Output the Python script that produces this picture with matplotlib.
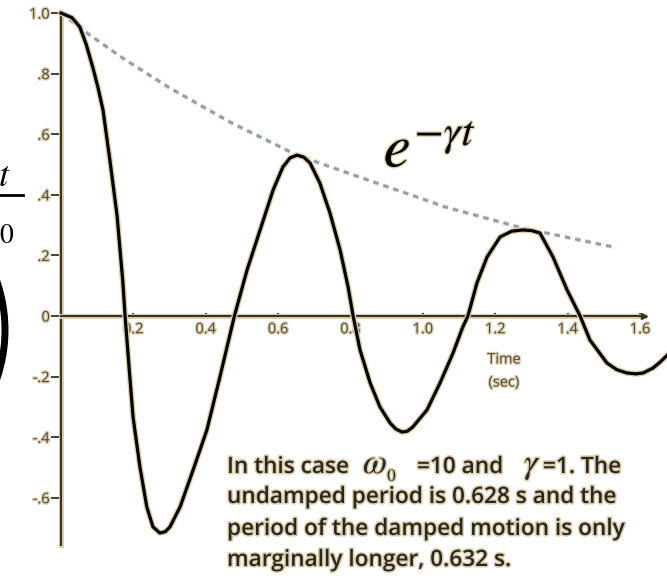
import matplotlib
matplotlib.use("Agg")
import matplotlib.pyplot as plt
import matplotlib.patheffects as pe
from matplotlib.patches import Arc

# damped oscillation x/x0 (time in seconds)
t_sec = [0.0, 0.03, 0.052, 0.07, 0.088, 0.102, 0.116, 0.135, 0.155, 0.171, 0.177,
         0.188, 0.199, 0.218, 0.237, 0.254, 0.273, 0.288, 0.301, 0.329, 0.365,
         0.403, 0.439, 0.479, 0.514, 0.55, 0.586, 0.613, 0.633, 0.652, 0.671,
         0.688, 0.715, 0.743, 0.771, 0.793, 0.807, 0.826, 0.854, 0.881, 0.909,
         0.925, 0.942, 0.957, 0.972, 1.011, 1.047, 1.083, 1.11, 1.124, 1.149,
         1.177, 1.213, 1.245, 1.276, 1.30, 1.323, 1.359, 1.398, 1.434, 1.461,
         1.508, 1.535, 1.563, 1.588, 1.608, 1.635, 1.655, 1.674]
x_ratio = [1.0, 0.985, 0.954, 0.895, 0.82, 0.755, 0.68, 0.515, 0.33, 0.11, 0.0,
           -0.168, -0.333, -0.498, -0.63, -0.696, -0.716, -0.712, -0.696, -0.63, -0.508,
           -0.376, -0.201, 0.0, 0.152, 0.284, 0.416, 0.492, 0.522, 0.531, 0.524,
           0.505, 0.439, 0.34, 0.218, 0.096, 0.0, -0.112, -0.221, -0.30, -0.353,
           -0.373, -0.383, -0.38, -0.366, -0.31, -0.221, -0.122, -0.036, 0.0, 0.109,
           0.195, 0.261, 0.28, 0.284, 0.282, 0.274, 0.195, 0.086, 0.0, -0.079,
           -0.155, -0.177, -0.188, -0.191, -0.188, -0.172, -0.152, -0.13]

# e^(-gamma t) envelope
env_t = [0.0, 0.08, 0.171, 0.301, 0.467, 0.652, 0.84, 1.019, 1.055, 1.276, 1.525]
env_x = [1.0, 0.927, 0.851, 0.752, 0.64, 0.531, 0.452, 0.378, 0.362, 0.29, 0.228]

x_ticks = [0.2, 0.4, 0.6, 0.8, 1.0, 1.2, 1.4, 1.6]
x_tick_labels = ["0.2", "0.4", "0.6", "0.8", "1.0", "1.2", "1.4", "1.6"]
y_ticks = [1.0, 0.8, 0.6, 0.4, 0.2, 0.0, -0.2, -0.4, -0.6]
y_tick_labels = ["1.0", ".8", ".6", ".4", ".2", "0", "-.2", "-.4", "-.6"]

note_lines = ["undamped period is 0.628 s and the",
              "period of the damped motion is only",
              "marginally longer, 0.632 s."]

plt.rcParams["font.family"] = ["Open Sans", "DejaVu Sans"]
plt.rcParams["mathtext.fontset"] = "stix"

BEIGE = "#dccfae"
AXIS = "#3a3226"
LABEL = "#4e463a"
halo = lambda w: [pe.withStroke(linewidth=w, foreground=BEIGE)]

fig = plt.figure(figsize=(6.67, 5.79), dpi=100)
ax = fig.add_axes([0, 0, 1, 1])
ax.set_xlim(-0.1685, 1.674)
ax.set_ylim(-0.868, 1.043)

ax.plot(env_t, env_x, color="#86a0bb", lw=1.8, dashes=(2.2, 2.0),
        path_effects=halo(3.0), zorder=3)
ax.plot(t_sec, x_ratio, color="black", lw=2.3, solid_joinstyle="round",
        path_effects=halo(4.2), zorder=4)

# axes through the origin
for side in ["top", "right"]:
    ax.spines[side].set_visible(False)
ax.spines["left"].set_position(("data", 0))
ax.spines["bottom"].set_position(("data", 0))
ax.spines["left"].set_bounds(-0.755, 1.0)
ax.spines["bottom"].set_bounds(0, 1.61)
for side in ["left", "bottom"]:
    ax.spines[side].set_color(AXIS)
    ax.spines[side].set_linewidth(1.5)
    ax.spines[side].set_path_effects(halo(3.6))
ax.plot([1.61], [0], marker=">", ms=5, color=AXIS, clip_on=False, zorder=3)

ax.set_xticks(x_ticks, x_tick_labels)
ax.set_yticks(y_ticks, y_tick_labels)
ax.tick_params(axis="x", direction="inout", length=5, width=1.4, color=AXIS,
               pad=2, labelsize=10.5, labelcolor=LABEL)
ax.tick_params(axis="y", direction="out", length=7, width=1.3, color=AXIS,
               pad=1, labelsize=10.5, labelcolor=LABEL)
for lab in ax.get_xticklabels() + ax.get_yticklabels():
    lab.set_path_effects(halo(2.0))

ax.text(504 / 667, 1 - 360 / 579, "Time", transform=ax.transAxes, ha="center",
        va="center", fontsize=10.5, color=LABEL, path_effects=halo(1.8))
ax.text(504 / 667, 1 - 383 / 579, "(sec)", transform=ax.transAxes, ha="center",
        va="center", fontsize=10.5, color=LABEL, path_effects=halo(1.8))

ax.text(0.575, 0.712, r"$e^{-\gamma t}$", transform=ax.transAxes, fontsize=44,
        va="baseline", ha="left", path_effects=halo(2.0))

# explanatory note; first line mixes text and symbols
note_kw = dict(transform=ax.transAxes, va="baseline", ha="left", fontsize=16.3,
               fontweight="semibold", color="#2a2620", path_effects=halo(2.2))
sym_kw = {**note_kw, "fontsize": 25, "fontweight": "normal"}
y0 = 1 - 473 / 579
ax.text(227 / 667, y0, "In this case", **note_kw)
ax.text(363 / 667, y0, r"$\omega_{_0}$", **sym_kw)
ax.text(417 / 667, y0, "=10 and", **note_kw)
ax.text(524 / 667, y0, r"$\gamma$", **sym_kw)
ax.text(543 / 667, y0, "=1. The", **note_kw)
for line, ypix in zip(note_lines, [503, 535, 566]):
    ax.text(227 / 667, 1 - ypix / 579, line, **note_kw)

# cut-off ratio label at the left edge
ax.text(-0.157, 0.428, r"$t$", fontsize=26, ha="center", va="baseline")
ax.plot([-0.175, -0.105], [0.398, 0.398], color="black", lw=2.0, clip_on=False)
ax.text(-0.150, 0.24, r"$0$", fontsize=20, ha="center", va="baseline")
ax.add_patch(Arc(((5 - 150) / 100, (579 - 330) / 100), 3.0, 3.0,
                 theta1=-28, theta2=28, lw=5, color="black",
                 transform=fig.dpi_scale_trans, clip_on=False))

fig.savefig("out.png", dpi=100, facecolor="white")
